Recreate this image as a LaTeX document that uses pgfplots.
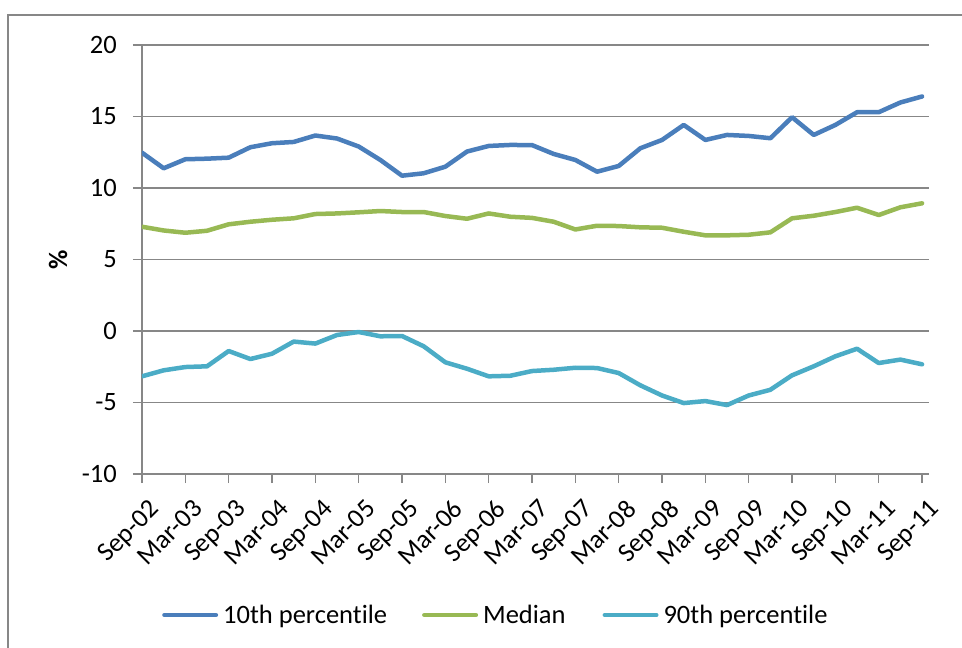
\documentclass[border=0pt]{standalone}
\usepackage{pgfplots}
\pgfplotsset{compat=1.18}
\usepackage{pgfplotstable}
\usepackage{fontspec}
\setmainfont{Carlito}[Ligatures=NoCommon]
\definecolor{c1}{HTML}{4A7EBB}
\definecolor{c2}{HTML}{98B954}
\definecolor{c3}{HTML}{4BACC6}
\definecolor{gr}{HTML}{878787}
\pgfplotstableread{
x p10 med p90
0 12.47 7.29 -3.17
1 11.38 7.03 -2.75
2 12.01 6.87 -2.52
3 12.05 7.01 -2.47
4 12.12 7.46 -1.40
5 12.85 7.64 -1.96
6 13.13 7.78 -1.59
7 13.22 7.88 -0.74
8 13.67 8.18 -0.88
9 13.46 8.22 -0.28
10 12.90 8.30 -0.07
11 11.96 8.39 -0.37
12 10.86 8.32 -0.35
13 11.03 8.32 -1.07
14 11.49 8.04 -2.19
15 12.55 7.85 -2.64
16 12.94 8.22 -3.17
17 13.01 7.99 -3.13
18 13.00 7.91 -2.80
19 12.38 7.64 -2.71
20 11.96 7.10 -2.57
21 11.14 7.36 -2.59
22 11.54 7.34 -2.94
23 12.78 7.25 -3.80
24 13.36 7.22 -4.51
25 14.41 6.94 -5.04
26 13.36 6.69 -4.90
27 13.71 6.69 -5.18
28 13.64 6.73 -4.51
29 13.48 6.90 -4.11
30 14.95 7.88 -3.10
31 13.71 8.06 -2.47
32 14.41 8.32 -1.77
33 15.30 8.62 -1.24
34 15.30 8.11 -2.24
35 15.98 8.65 -2.00
36 16.40 8.93 -2.33
}\data
\begin{document}
\begin{tikzpicture}[x=1pt,y=1pt]
\useasboundingbox (0,0) rectangle (962,648);
\draw[gr, line width=1.5pt] (8,0) -- (8,633) -- (962,633);
\begin{axis}[
  at={(142pt,174pt)}, anchor=south west,
  scale only axis, width=787pt, height=429pt,
  xmin=0, xmax=36.32, ymin=-10, ymax=20,
  ytick={-10,-5,0,5,10,15,20},
  xtick={0,2,...,36},
  xticklabels={Sep-02,Mar-03,Sep-03,Mar-04,Sep-04,Mar-05,Sep-05,Mar-06,Sep-06,Mar-07,Sep-07,Mar-08,Sep-08,Mar-09,Sep-09,Mar-10,Sep-10,Mar-11,Sep-11},
  axis x line*=bottom, axis y line*=left,
  axis line style={-, gr, line width=1.5pt},
  ymajorgrids, grid style={gr, line width=1.5pt},
  tick style={gr, line width=1.5pt},
  tick align=outside, major tick length=9pt,
  tick label style={font=\fontsize{26.5}{31}\selectfont, inner sep=0pt},
  /pgf/number format/assume math mode=true,
  yticklabel shift=16pt,
  x tick label style={xshift=6pt, rotate=45, anchor=north east},
  xticklabel shift=15pt,
  ylabel={\bfseries\%},
  ylabel style={at={(axis description cs:-0.1067,0.5)}, anchor=center, font=\fontsize{26.5}{31}\selectfont},
  legend columns=3,
  legend style={at={(axis description cs:0.0254,-0.3287)}, anchor=west, draw=none, fill=none, inner sep=0pt, column sep=0pt, nodes={inner sep=0pt}, font=\fontsize{26.5}{31}\selectfont},
  legend image code/.code={\draw[#1, line cap=round, line width=4.5pt] (2.25pt,0pt) -- (53.75pt,0pt);},
  every axis plot/.append style={line width=4.5pt, line join=round, line cap=round, mark=none},
]
\addplot[c1] table[x=x, y=p10] {\data};
\addlegendentry{\hspace*{5pt}10th percentile\hspace*{35pt}}
\addplot[c2] table[x=x, y=med] {\data};
\addlegendentry{\hspace*{5pt}Median\hspace*{37pt}}
\addplot[c3] table[x=x, y=p90] {\data};
\addlegendentry{\hspace*{5pt}90th percentile}
\end{axis}
\end{tikzpicture}
\end{document}
